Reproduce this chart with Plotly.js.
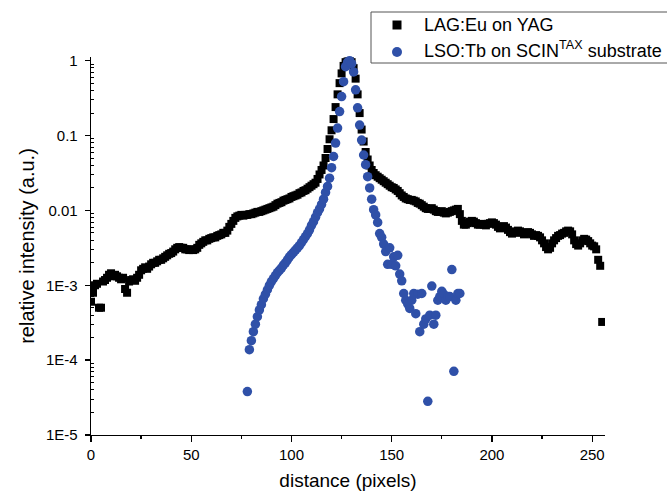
<!DOCTYPE html>
<html>
<head>
<meta charset="utf-8">
<script src="https://cdn.plot.ly/plotly-3.0.1.min.js"></script>
<style>html,body{margin:0;padding:0;background:#fff;}#chart{width:667px;height:491px;}</style>
</head>
<body>
<div id="chart"></div>
<script>
// Series names
const seriesNames = ["LAG:Eu on YAG", "LSO:Tb on SCIN<sup>TAX</sup> substrate"];

// LAG:Eu on YAG — log10(relative intensity), one value per pixel from x = 0
const lagStart = 0;
const lagLog10 = [
-3.22,-3.10,-3.00,-2.98,-3.30,-3.30,-2.95,-2.93,-2.90,-2.86,
-2.84,-2.88,-2.86,-2.88,-2.90,-2.92,-2.90,-3.05,-3.10,-2.95,
-2.93,-2.92,-2.94,-2.90,-2.86,-2.80,-2.78,-2.76,-2.78,-2.75,
-2.72,-2.70,-2.70,-2.68,-2.66,-2.66,-2.64,-2.62,-2.60,-2.58,
-2.57,-2.55,-2.52,-2.50,-2.49,-2.50,-2.50,-2.52,-2.52,-2.53,
-2.52,-2.53,-2.52,-2.50,-2.46,-2.44,-2.42,-2.40,-2.40,-2.38,
-2.37,-2.36,-2.36,-2.34,-2.33,-2.32,-2.30,-2.30,-2.27,-2.22,
-2.18,-2.14,-2.10,-2.08,-2.07,-2.06,-2.07,-2.06,-2.06,-2.05,
-2.05,-2.04,-2.03,-2.02,-2.02,-2.01,-2.00,-1.99,-1.98,-1.97,
-1.96,-1.95,-1.93,-1.91,-1.90,-1.89,-1.87,-1.86,-1.85,-1.84,
-1.82,-1.81,-1.80,-1.79,-1.77,-1.76,-1.74,-1.73,-1.71,-1.69,
-1.67,-1.65,-1.63,-1.58,-1.52,-1.46,-1.40,-1.30,-1.18,-1.05,
-0.93,-0.78,-0.62,-0.45,-0.30,-0.17,-0.07,-0.02,-0.01,0.00,
-0.02,-0.10,-0.24,-0.45,-0.70,-0.92,-1.08,-1.22,-1.32,-1.40,
-1.46,-1.50,-1.53,-1.55,-1.57,-1.59,-1.61,-1.63,-1.65,-1.67,
-1.69,-1.70,-1.72,-1.74,-1.77,-1.80,-1.82,-1.84,-1.85,-1.86,
-1.86,-1.87,-1.88,-1.90,-1.91,-1.93,-1.95,-1.97,-1.98,-1.98,
-1.97,-1.99,-2.01,-2.02,-2.02,-2.01,-2.03,-2.04,-2.03,-2.02,
-2.01,-2.00,-1.99,-1.98,-2.05,-2.14,-2.19,-2.19,-2.17,-2.15,
-2.14,-2.15,-2.17,-2.19,-2.19,-2.18,-2.19,-2.20,-2.18,-2.17,
-2.16,-2.17,-2.19,-2.22,-2.24,-2.22,-2.21,-2.23,-2.26,-2.29,
-2.31,-2.30,-2.28,-2.27,-2.28,-2.30,-2.32,-2.30,-2.29,-2.30,
-2.32,-2.34,-2.33,-2.34,-2.36,-2.40,-2.44,-2.49,-2.52,-2.50,
-2.44,-2.40,-2.37,-2.34,-2.33,-2.31,-2.30,-2.28,-2.27,-2.28,
-2.32,-2.40,-2.45,-2.47,-2.44,-2.40,-2.38,-2.39,-2.41,-2.44,
-2.47,-2.48,-2.52,-2.66,-2.74,-3.49
];

// LSO:Tb on SCIN-TAX — log10(relative intensity), one value per pixel from x = 78
const lsoStart = 78;
const lsoLog10 = [
-4.42,-3.86,-3.74,-3.62,-3.52,-3.42,-3.33,-3.26,-3.18,-3.12,
-3.06,-3.00,-2.95,-2.91,-2.87,-2.83,-2.80,-2.77,-2.73,-2.70,
-2.66,-2.62,-2.59,-2.56,-2.53,-2.50,-2.47,-2.43,-2.39,-2.35,
-2.31,-2.26,-2.20,-2.15,-2.09,-2.03,-1.98,-1.92,-1.85,-1.76,
-1.68,-1.57,-1.43,-1.28,-1.10,-0.90,-0.68,-0.48,-0.28,-0.08,
-0.02,0.00,-0.04,-0.15,-0.39,-0.63,-0.86,-1.06,-1.26,-1.39,
-1.55,-1.70,-1.85,-1.99,-2.06,-2.16,-2.31,-2.36,-2.45,-2.55,
-2.72,-2.50,-2.72,-2.62,-2.74,-2.60,-2.85,-2.94,-3.11,-3.20,
-3.25,-3.31,-3.20,-3.11,-3.38,-3.12,-3.62,-3.11,-3.52,-3.45,
-4.55,-3.40,-3.01,-3.52,-3.40,-3.20,-3.15,-3.08,-3.12,-3.20,
-3.15,-3.15,-2.79,-4.15,-3.20,-3.11,-3.11
];

// Axis ticks
const xTickVals = [0, 50, 100, 150, 200, 250];
const xMinorVals = [25, 75, 125, 175, 225];
const yTickVals = [1e-5, 1e-4, 1e-3, 0.01, 0.1, 1];
const yTickText = ["1E-5", "1E-4", "1E-3", "0.01", "0.1", "1"];

const toLinear = arr => arr.map(v => Math.pow(10, v));
const yMinorVals = [];
for (let d = -5; d < 1; d++) for (let k = 2; k <= 9; k++) yMinorVals.push(k * Math.pow(10, d));

const FONT = '"Liberation Sans", Arial, Helvetica, sans-serif';
const BLACK = '#000000';
const BLUE = '#2F50A8';

// Pixel -> paper helpers for the legend box (plot area: x 91..605, y 57..435)
const M = {l: 91, r: 62, t: 57, b: 56};
const PW = 667 - M.l - M.r, PH = 491 - M.t - M.b;
const px = v => (v - M.l) / PW;
const py = v => (491 - M.b - v) / PH;

const traces = [
  {
    type: 'scatter', mode: 'markers', name: seriesNames[0],
    x0: lagStart, dx: 1, y: toLinear(lagLog10),
    marker: {symbol: 'square', size: 8, color: BLACK, line: {width: 0}}
  },
  {
    type: 'scatter', mode: 'markers', name: seriesNames[1],
    x0: lsoStart, dx: 1, y: toLinear(lsoLog10),
    marker: {symbol: 'circle', size: 9.5, color: BLUE, line: {width: 0}},
    cliponaxis: false
  }
];

const legendShapes = [
  {type: 'rect', xref: 'paper', yref: 'paper', x0: px(371), x1: px(700), y0: py(63), y1: py(12),
   line: {color: '#555555', width: 1}, fillcolor: '#ffffff', layer: 'above'},
  {type: 'rect', xref: 'paper', yref: 'paper', x0: px(392.5), x1: px(401.5), y0: py(29.5), y1: py(20.5),
   line: {width: 0}, fillcolor: BLACK, layer: 'above'},
  {type: 'circle', xref: 'paper', yref: 'paper', x0: px(392), x1: px(402), y0: py(57), y1: py(47),
   line: {width: 0}, fillcolor: BLUE, layer: 'above'}
];

const legendText = [
  {text: seriesNames[0], xref: 'paper', yref: 'paper', x: px(422), y: py(25), xanchor: 'left', yanchor: 'middle',
   showarrow: false, font: {size: 18, family: FONT, color: BLACK}},
  {text: seriesNames[1], xref: 'paper', yref: 'paper', x: px(422), y: py(50), xanchor: 'left', yanchor: 'middle',
   showarrow: false, font: {size: 18, family: FONT, color: BLACK}}
];

const layout = {
  width: 667, height: 491,
  margin: {l: M.l, r: M.r, t: M.t, b: M.b, autoexpand: false},
  paper_bgcolor: '#ffffff', plot_bgcolor: '#ffffff',
  font: {family: FONT, color: BLACK},
  showlegend: false,
  shapes: legendShapes,
  annotations: legendText,
  xaxis: {
    range: [0, 256.4], showgrid: false, zeroline: false,
    showline: true, linecolor: BLACK, linewidth: 1.3,
    ticks: 'outside', ticklen: 6, tickwidth: 1.3, tickcolor: BLACK,
    tickmode: 'array', tickvals: xTickVals,
    minor: {tickmode: 'array', tickvals: xMinorVals, ticks: 'outside', ticklen: 3, tickwidth: 1.3, tickcolor: BLACK, showgrid: false},
    tickfont: {size: 15, family: FONT},
    title: {text: 'distance (pixels)', font: {size: 19, family: FONT}, standoff: 12},
    automargin: false
  },
  yaxis: {
    type: 'log', range: [-5, 0.049], showgrid: false, zeroline: false,
    showline: true, linecolor: BLACK, linewidth: 1.3,
    ticks: 'outside', ticklen: 5, tickwidth: 1.3, tickcolor: BLACK,
    tickmode: 'array', tickvals: yTickVals, ticktext: yTickText,
    ticklabelstandoff: 4,
    minor: {tickmode: 'array', tickvals: yMinorVals, ticks: 'inside', ticklen: 3, tickwidth: 1, tickcolor: BLACK, showgrid: false},
    tickfont: {size: 15, family: FONT},
    title: {text: 'relative intensity (a.u.)', font: {size: 20, family: FONT}, standoff: 6},
    automargin: true
  }
};

Plotly.newPlot('chart', traces, layout, {staticPlot: true, displayModeBar: false});
</script>
</body>
</html>
